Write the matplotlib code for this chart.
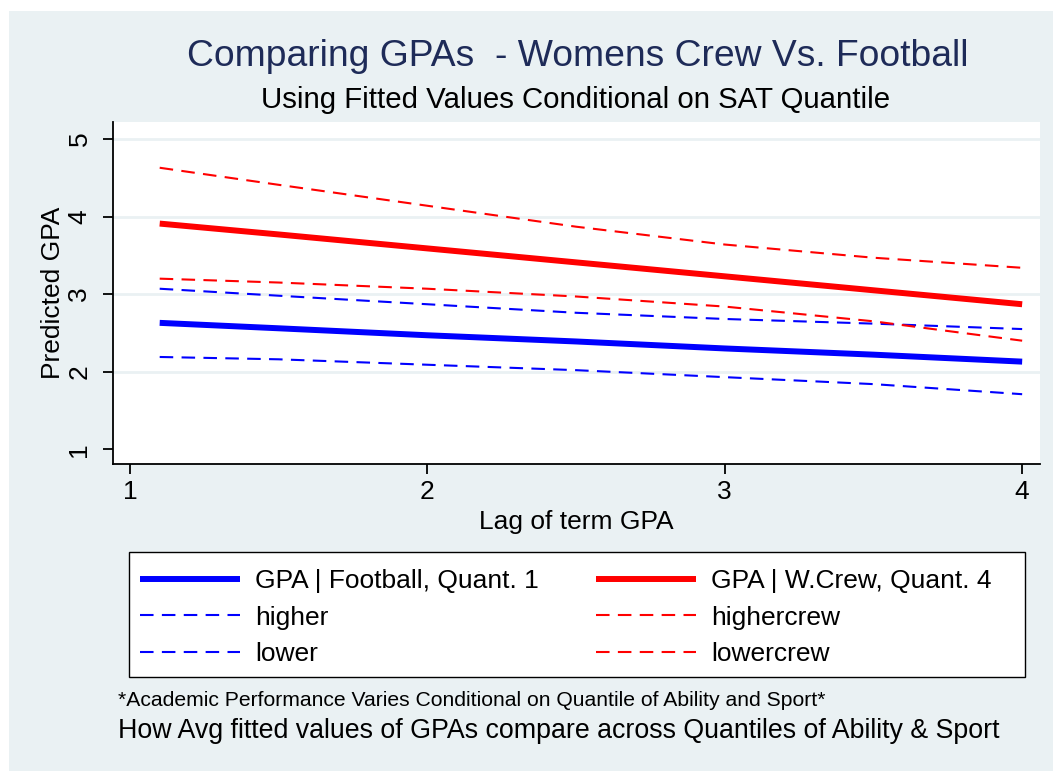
import matplotlib
matplotlib.use("Agg")
import matplotlib.pyplot as plt
from matplotlib.patches import Rectangle

plt.rcParams['font.family'] = ['Liberation Sans', 'DejaVu Sans']

# Lag of term GPA and fitted values by group
lag_gpa = [1.1, 1.5, 2.0, 2.5, 3.0, 3.5, 4.0]
football_q1 = [2.63, 2.56, 2.47, 2.39, 2.30, 2.22, 2.13]
higher = [3.07, 2.98, 2.87, 2.76, 2.68, 2.62, 2.55]
lower = [2.19, 2.16, 2.09, 2.02, 1.93, 1.84, 1.71]
crew_q4 = [3.91, 3.77, 3.59, 3.41, 3.23, 3.05, 2.87]
highercrew = [4.63, 4.41, 4.14, 3.87, 3.64, 3.47, 3.34]
lowercrew = [3.20, 3.15, 3.07, 2.97, 2.84, 2.65, 2.40]

xticks = [1, 2, 3, 4]
yticks = [1, 2, 3, 4, 5]

bg = '#EAF1F3'
W, H = 1053, 771
fs = 19

fig = plt.figure(figsize=(W / 100, H / 100), dpi=100)
fig.patch.set_facecolor('white')
fig.patches.append(Rectangle((9 / W, 0), 1 - 9 / W, 1 - 11 / H,
                             transform=fig.transFigure, facecolor=bg,
                             edgecolor='none', zorder=-10))

ax = fig.add_axes([113 / W, 1 - 464 / H, (1040 - 113) / W, (464 - 122) / H])
ax.set_facecolor('white')

for v in yticks[1:]:
    ax.axhline(v, color=bg, lw=2, zorder=1)

thick = dict(lw=4.3, solid_capstyle='butt', zorder=3)
dash = dict(lw=1.5, dashes=(6.5, 4.0), zorder=2)

ax.plot(lag_gpa, football_q1, color='#0000FF', label='GPA | Football, Quant. 1', **thick)
ax.plot(lag_gpa, higher, color='#0000FF', label='higher', **dash)
ax.plot(lag_gpa, lower, color='#0000FF', label='lower', **dash)
ax.plot(lag_gpa, crew_q4, color='#FF0000', label='GPA | W.Crew, Quant. 4', **thick)
ax.plot(lag_gpa, highercrew, color='#FF0000', label='highercrew', **dash)
ax.plot(lag_gpa, lowercrew, color='#FF0000', label='lowercrew', **dash)

ax.set_xlim(0.943, 4.06)
ax.set_ylim(0.81, 5.22)
ax.set_xticks(xticks)
ax.set_yticks(yticks)
ax.tick_params(direction='out', length=7.5, width=1.3, labelsize=fs)
ax.tick_params(axis='x', pad=4)
ax.tick_params(axis='y', pad=8)
for lbl in ax.get_yticklabels():
    lbl.set_rotation(90)
    lbl.set_va('center')
for side in ['top', 'right']:
    ax.spines[side].set_visible(False)
for side in ['left', 'bottom']:
    ax.spines[side].set_linewidth(1.3)

ax.set_xlabel('Lag of term GPA', fontsize=fs, labelpad=4)
ax.set_ylabel('Predicted GPA', fontsize=fs, labelpad=2)

fig.text(578 / W, 1 - 56 / H, 'Comparing GPAs  - Womens Crew Vs. Football',
         ha='center', va='center', fontsize=26.8, color='#1E2B58')
fig.text(576 / W, 1 - 100 / H, 'Using Fitted Values Conditional on SAT Quantile',
         ha='center', va='center', fontsize=21.2, color='black')

# legend box drawn separately so the two columns sit where wanted
fig.patches.append(Rectangle((128.6 / W, 1 - 677 / H), (1025 - 128.6) / W, (677 - 552) / H,
                             transform=fig.transFigure, facecolor='white',
                             edgecolor='black', lw=1.0, zorder=1))

handles, labels = ax.get_legend_handles_labels()
leg = fig.legend(handles, labels, ncol=2, loc='upper left',
                 bbox_to_anchor=(140 / W, 1 - 569 / H),
                 fontsize=fs, frameon=False, handlelength=3.8,
                 handletextpad=0.57, labelspacing=0.48, borderaxespad=0,
                 borderpad=0, columnspacing=2.16)

fig.text(118 / W, 1 - 701 / H,
         '*Academic Performance Varies Conditional on Quantile of Ability and Sport*',
         ha='left', va='center', fontsize=15.2)
fig.text(118 / W, 1 - 731 / H,
         'How Avg fitted values of GPAs compare across Quantiles of Ability & Sport',
         ha='left', va='center', fontsize=19.3)

fig.savefig('out.png', dpi=100, facecolor=fig.get_facecolor())
